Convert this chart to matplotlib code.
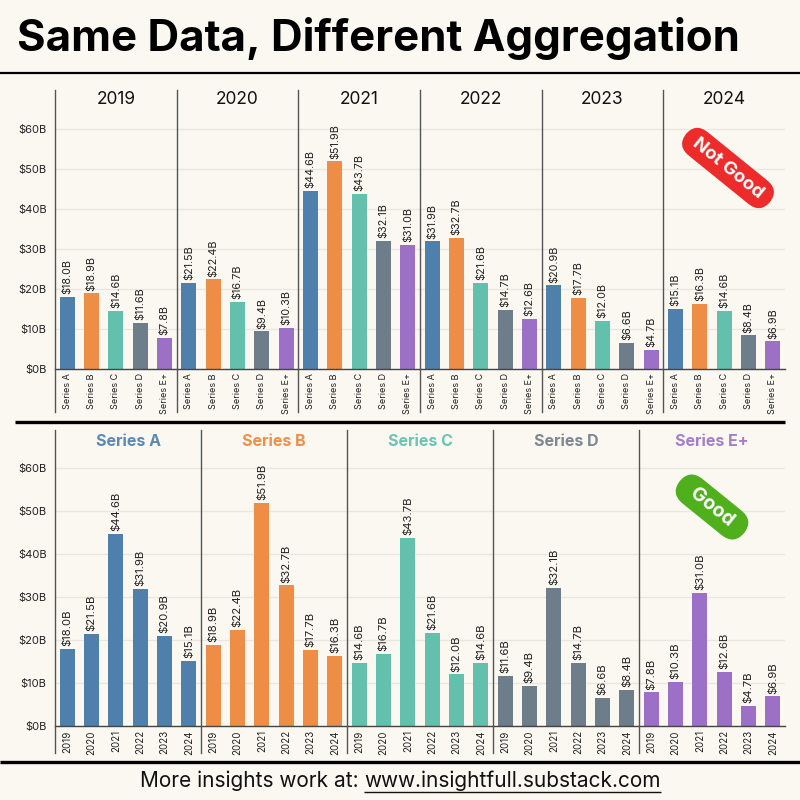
import matplotlib
matplotlib.use("Agg")
import matplotlib.pyplot as plt
from matplotlib.lines import Line2D

# ---------------- data ----------------
years = ["2019", "2020", "2021", "2022", "2023", "2024"]
series_names = ["Series A", "Series B", "Series C", "Series D", "Series E+"]
series_a = [18.0, 21.5, 44.6, 31.9, 20.9, 15.1]
series_b = [18.9, 22.4, 51.9, 32.7, 17.7, 16.3]
series_c = [14.6, 16.7, 43.7, 21.6, 12.0, 14.6]
series_d = [11.6, 9.4, 32.1, 14.7, 6.6, 8.4]
series_e = [7.8, 10.3, 31.0, 12.6, 4.7, 6.9]
y_ticks = [0, 10, 20, 30, 40, 50, 60]
y_tick_labels = ["$0B", "$10B", "$20B", "$30B", "$40B", "$50B", "$60B"]
title_text = "Same Data, Different Aggregation"
footer_lead = "More insights work at: "
footer_url = "www.insightfull.substack.com"

series_values = [series_a, series_b, series_c, series_d, series_e]
colors = ["#4E80AB", "#EE8D45", "#62C0AD", "#6D7D8A", "#9C70C7"]
title_colors = ["#5A8AB3", "#EE904C", "#6CC4B2", "#7D8891", "#A37FCB"]

BG = "#FBF8F2"
GRID = "#E9E6DF"
SEP = "#555555"
FONT = "Inter"

plt.rcParams["font.family"] = [FONT, "DejaVu Sans"]

fig = plt.figure(figsize=(8, 8), dpi=100, facecolor=BG)
W = H = 800.0


def fx(x):
    return x / W


def fy(y):
    return 1 - y / H


def vline(x, y0, y1, lw=1.0, color=SEP):
    fig.add_artist(Line2D([fx(x), fx(x)], [fy(y0), fy(y1)], lw=lw, color=color,
                          transform=fig.transFigure))


def hline(x0, x1, y, lw=1.0, color="black"):
    fig.add_artist(Line2D([fx(x0), fx(x1)], [fy(y), fy(y)], lw=lw, color=color,
                          transform=fig.transFigure, solid_capstyle="butt"))


def style_axis(ax, first, ylim_top):
    ax.set_facecolor("none")
    ax.set_ylim(0, ylim_top)
    ax.set_yticks(y_ticks)
    if first:
        ax.set_yticklabels(y_tick_labels, fontsize=8, color="#222222")
    else:
        ax.set_yticklabels([])
    ax.yaxis.grid(True, color=GRID, lw=0.9)
    ax.set_axisbelow(True)
    for s in ["top", "right", "left"]:
        ax.spines[s].set_visible(False)
    ax.spines["bottom"].set_color("#444444")
    ax.spines["bottom"].set_linewidth(1.0)
    ax.tick_params(axis="both", length=0)
    ax.tick_params(axis="y", pad=6)
    ax.tick_params(axis="x", pad=3)


# ---------------- title ----------------
fig.text(fx(17), fy(38), title_text, fontsize=31.5, fontweight="bold",
         ha="left", va="center", color="black")
hline(0, 800, 73, lw=1.6)

# ---------------- top panel: by year ----------------
left, right = 55.0, 785.0
wt = (right - left) / len(years)
base_t, ppb_t = 369.0, 4.0
ytop = 62
for i, yr in enumerate(years):
    ax = fig.add_axes([fx(left + i * wt), fy(base_t), wt / W, ytop * ppb_t / H])
    vals = [s[i] for s in series_values]
    xs = list(range(len(series_names)))
    ax.bar(xs, vals, width=0.62, color=colors, zorder=2)
    ax.set_xlim(-0.5, len(series_names) - 0.5)
    style_axis(ax, i == 0, ytop)
    ax.set_xticks(xs)
    ax.set_xticklabels(series_names, rotation=90, fontsize=6.5, color="#222222")
    for x, v in zip(xs, vals):
        ax.annotate(f"${v:.1f}B", xy=(x, v), xytext=(0, 2), textcoords="offset points",
                    rotation=90, ha="center", va="bottom", fontsize=7.8, color="#222222")
    vline(left + i * wt, 90, 412)
    fig.text(fx(left + (i + 0.5) * wt), fy(100), yr, ha="center", va="center",
             fontsize=12.5, color="#111111")

hline(15, 785, 421.5, lw=2.4)

# ---------------- bottom panel: by series ----------------
wb = (right - left) / len(series_names)
base_b, ppb_b = 726.0, 4.3
for i, name in enumerate(series_names):
    ax = fig.add_axes([fx(left + i * wb), fy(base_b), wb / W, ytop * ppb_b / H])
    vals = series_values[i]
    xs = list(range(len(years)))
    ax.bar(xs, vals, width=0.62, color=colors[i], zorder=2)
    ax.set_xlim(-0.5, len(years) - 0.5)
    style_axis(ax, i == 0, ytop)
    ax.set_xticks(xs)
    ax.set_xticklabels(years, rotation=90, fontsize=7, color="#222222")
    for x, v in zip(xs, vals):
        ax.annotate(f"${v:.1f}B", xy=(x, v), xytext=(0, 2), textcoords="offset points",
                    rotation=90, ha="center", va="bottom", fontsize=8.2, color="#222222")
    vline(left + i * wb, 430, 753)
    fig.text(fx(left + (i + 0.5) * wb), fy(442), name, ha="center", va="center",
             fontsize=11.5, fontweight="bold", color=title_colors[i])

hline(0, 800, 761.5, lw=2.4)

# ---------------- badges ----------------
fig.text(fx(728), fy(168), " Not Good ", rotation=-39, rotation_mode="anchor",
         ha="center", va="center", color="white", fontsize=13.5, fontweight="bold",
         bbox=dict(boxstyle="round,pad=0.35,rounding_size=0.85", fc="#EE2B2B", ec="none"))
fig.text(fx(712), fy(507), "  Good  ", rotation=-39, rotation_mode="anchor",
         ha="center", va="center", color="white", fontsize=14, fontweight="bold",
         bbox=dict(boxstyle="round,pad=0.35,rounding_size=0.85", fc="#4FAF1C", ec="none"))

# ---------------- footer ----------------
t1 = fig.text(0, fy(781), footer_lead, ha="left", va="center", fontsize=15, color="#111111")
t2 = fig.text(0, fy(781), footer_url, ha="left", va="center", fontsize=15, color="#111111")
fig.canvas.draw()
r = fig.canvas.get_renderer()
w1 = t1.get_window_extent(r).width
w2 = t2.get_window_extent(r).width
x0 = (W - (w1 + w2)) / 2.0
t1.set_x(x0 / W)
t2.set_x((x0 + w1) / W)
fig.canvas.draw()
bb = t2.get_window_extent(r)
hline(bb.x0, bb.x1, H - bb.y0 + 1, lw=1.0, color="#111111")

fig.savefig("out.png", dpi=100, facecolor=BG)
